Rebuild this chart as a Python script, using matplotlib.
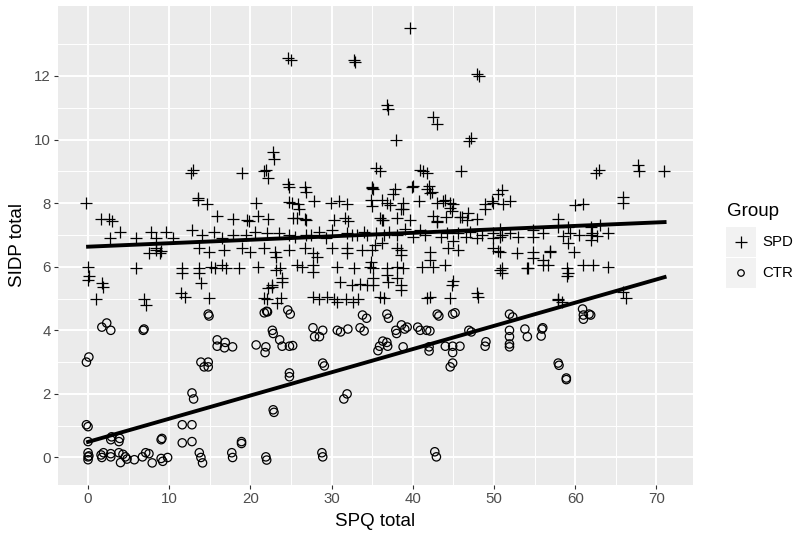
import matplotlib
matplotlib.use('Agg')
import matplotlib.pyplot as plt
import numpy as np
from matplotlib.patches import Rectangle

plt.rcParams['font.family'] = ['Liberation Sans', 'DejaVu Sans']

# SPD group (SPQ total, SIDP total)
spd_x = [39.6, 24.6, 25.0, 32.7, 32.9, 47.9, 48.1, 36.8, 37.0, 42.5, 43.0, 46.9, 47.1, 37.9, 22.8, 22.9,
         12.7, 12.9, 18.9, 21.7, 21.9, 22.1, -0.2, 13.5, 14.7, 15.9, 17.8, 19.8, 20.7, 20.9, 22.1, 1.6,
         2.6, 2.9, 2.7, 3.9, 5.9, 7.8, 8.4, 9.6, 12.8, 17.8, 22.0,
         24.6, 24.8, 26.7, 26.8, 35.0, 35.5, 13.6, 19.6, 24.7, 25.8, 26.0, 27.8, 29.9, 30.9, 25.7, 26.7,
         31.7, 32.0, 35.0, 34.9, 24.8, 26.9, 30.0, 31.9, 33.1, 34.4,
         35.9, 40.9, 41.2, 41.7, 45.9, 62.5, 62.9, 35.1, 37.8, 37.6, 40.0, 42.0, 42.3, 36.2, 36.8, 38.8,
         38.6, 40.7, 43.0, 44.0, 44.6, 44.6, 48.9, 49.8, 51.0, 50.5, 51.1, 52.0, 48.9, 60.0, 60.9, 35.9,
         36.3, 38.0, 39.6, 42.5, 43.0, 44.1, 45.8, 46.8, 47.9, 57.9, 57.9, 35.5, 37.1, 39.0, 40.9, 44.2,
         47.0, 49.9, 51.0, 54.8, 58.5, 61.9, 62.7,
         67.7, 67.9, 70.9, 65.9, 65.9, 50.7, 50.7, 49.9, 59.1, 59.4, 61.9, 62.1, 64.0, 54.8,
         50.7, 49.9, 52.8, 54.8, 54.8, 56.9, 56.0, 56.7, 59.8, 59.1, 61.9, 50.7, 54.1, 59.0, 59.1, 59.0,
         60.9, 62.2, 64.0, 57.9, 58.4, 65.9, 66.2,
         35.3, 36.2, 38.0, 38.6, 38.6, 42.1, 42.1, 44.3, 44.9, 45.5, 47.9, 50.5, 56.9, 41.1, 42.5, 44.0,
         51.0, 51.0, 54.2, 56.0, 44.8, 45.0, 47.9, 48.0, 35.9, 36.5, 41.7, 42.1, 44.6, 57.9, 36.8, 36.8,
         37.0, 38.0, 38.8, 38.6, 38.6, 38.0, 35.1, 35.1, 35.1,
         8.4, 9.0, 13.7, 14.9, 16.8, 18.9, 19.9, 21.7, 23.0, 23.2, 24.8, 26.7, 27.7, 28.2, 30.0, 31.9,
         31.9, 33.7, 35.0,
         11.6, 11.6, 13.7, 13.7, 13.9, 15.6, 17.0, 18.6, 20.9, 23.6, 23.9, 23.9, 22.7, 22.1, 25.7, 26.4,
         27.7, 27.7, 30.7, 32.8, 31.0, 32.5, 33.5, 34.3, 34.7, 34.9,
         11.5, 11.9, 14.9, 21.7, 23.8, 23.3, 27.7, 28.5, 29.4, 30.3, 30.7, 31.8, 32.6, 33.2,
         0.0, 0.0, 0.1, 1.7, 1.9, 1.0, 5.9, 6.9, 7.1, 7.5, 8.4, 8.8, 15.1, 16.5, 22.0, 22.6, 23.2,
         35.0, 39.9, 41.7, 42.1, 25.1, 31.9, 37.2, 38.8, 43.7, 44.9, 44.8, 49.9, 25.3, 26.9, 30.3, 36.2,
         43.0, 46.1, 46.7,
         10.5, 14.0, 15.5, 16.5, 19.5, 20.5, 23.5, 25.5, 27.5, 28.5, 29.3, 32.5, 34.0, 36.5, 38.0, 40.0,
         41.5, 43.5, 45.5, 46.5, 48.5, 52.0, 53.0, 56.0, 60.5, 63.0]
spd_y = [13.5, 12.55, 12.5, 12.5, 12.45, 12.05, 12.0, 11.1, 10.95, 10.7, 10.5, 9.95, 10.05, 10.0, 9.6, 9.4,
         8.95, 9.05, 8.95, 9.0, 9.05, 8.8, 8.0, 8.1, 7.97, 7.6, 7.5, 7.45, 8.0, 7.6, 7.5, 7.5,
         7.5, 7.45, 6.9, 7.1, 6.9, 7.1, 6.9, 7.1, 7.15, 7.0, 7.05,
         8.6, 8.5, 8.5, 8.35, 8.5, 9.1, 8.15, 7.47, 8.03, 7.97, 7.8, 8.07, 8.0, 8.07, 7.54, 7.5,
         7.54, 7.45, 7.9, 8.1, 7.0, 7.0, 7.15, 7.06, 7.0, 7.0,
         9.0, 9.05, 9.0, 8.95, 9.0, 8.95, 9.05, 8.45, 8.45, 8.3, 8.55, 8.55, 8.35, 8.1, 8.0, 8.0,
         7.8, 8.07, 8.0, 8.1, 8.0, 7.85, 7.97, 8.07, 8.4, 8.3, 7.97, 8.07, 7.8, 7.94, 7.97, 7.54,
         7.47, 7.54, 7.47, 7.6, 7.45, 7.56, 7.56, 7.7, 7.5, 7.5, 7.25, 7.06, 7.1, 7.2, 7.15, 7.06,
         7.1, 7.06, 7.0, 7.15, 6.97, 7.0, 6.97,
         9.2, 9.0, 9.0, 8.2, 8.0, 7.2, 6.95, 6.9, 7.25, 7.06, 7.25, 7.06, 7.06, 6.95,
         6.47, 6.6, 6.43, 6.47, 6.28, 6.47, 6.2, 6.05, 6.47, 6.74, 6.84, 5.9, 5.97, 5.97, 5.8, 5.7,
         6.05, 6.05, 6.0, 5.0, 4.9, 5.2, 5.03,
         6.68, 6.75, 6.6, 6.53, 6.37, 6.47, 6.2, 6.6, 6.8, 6.53, 6.9, 6.5, 6.5, 6.0, 6.0, 6.05,
         5.97, 5.8, 5.97, 6.05, 5.42, 5.55, 5.17, 5.05, 5.05, 5.02, 5.02, 5.05, 5.02, 4.96, 5.97, 5.74,
         5.52, 6.0, 5.97, 5.43, 5.27, 5.65, 5.97, 5.65, 5.43,
         6.6, 6.5, 6.6, 6.47, 6.53, 6.6, 6.47, 6.6, 6.47, 6.3, 6.53, 6.6, 6.43, 6.3, 6.6, 6.6,
         6.43, 6.53, 6.53,
         5.97, 5.8, 5.97, 5.8, 5.5, 5.97, 5.97, 5.97, 6.0, 5.97, 5.65, 5.52, 5.43, 5.33, 6.05, 6.0,
         6.05, 5.84, 6.0, 5.97, 5.52, 5.42, 5.47, 5.42, 6.0, 6.15,
         5.17, 5.05, 5.02, 5.02, 5.02, 4.87, 5.05, 5.0, 5.05, 5.0, 4.9, 5.0, 4.9, 5.0,
         6.0, 5.58, 5.7, 5.5, 5.35, 5.0, 5.97, 5.0, 4.8, 6.43, 6.53, 6.43, 6.0, 6.05, 5.0, 5.35, 5.9,
         8.48, 8.5, 8.45, 8.33, 8.0, 7.97, 7.94, 7.8, 8.07, 7.97, 7.76, 8.0, 7.54, 7.47, 7.47, 7.47,
         7.4, 7.56, 7.47,
         6.9, 7.0, 7.1, 6.9, 7.0, 7.1, 7.05, 6.95, 7.0, 7.1, 6.9, 7.0, 7.1, 7.0, 7.0, 6.95,
         7.0, 6.95, 7.05, 6.95, 7.0, 7.05, 6.95, 7.05, 7.0, 7.3]

# CTR group
ctr_x = [-0.2, 0.0, 0.0, 2.8, 2.9, 3.8, 3.9, 9.0, 9.1, 11.6, 12.8, 18.9, 18.9, 0.0, 0.0, 0.0,
         0.1, 1.6, 1.9, 1.7, 2.8, 2.8, 3.8, 4.0, 4.3, 4.6, 4.8, 5.7, 6.7, 7.1, 7.5, 7.9,
         9.0, 9.2, 9.8, 13.7, 13.9, 14.1, 17.7, 17.8, 21.9, 22.0, 28.8, 28.9, 42.7, 42.9,
         11.6, 12.8, 22.8, 22.9, 12.8, 13.0, 31.5, 31.9, -0.2, 0.1, 13.9, 14.8, 14.3, 14.8, 24.8, 24.8,
         28.9, 29.1, 44.9, 44.6, 57.9, 58.0, 58.9, 58.9,
         15.9, 15.9, 16.9, 16.8, 17.8, 20.7, 21.9, 21.8, 23.6, 23.9, 24.8, 25.2, 35.7, 35.9, 36.3, 36.8,
         36.9, 38.8, 42.0, 42.0, 44.0, 44.9, 44.9, 45.8, 49.0, 48.9, 51.9, 51.9,
         1.7, 2.3, 2.8, 6.9, 6.8, 14.8, 14.9, 21.7, 22.0, 22.1, 24.6, 24.9, 22.7, 22.8,
         27.7, 27.9, 28.5, 28.9, 30.7, 31.1, 32.0, 33.5, 34.0, 33.8, 34.3, 36.8, 37.0, 37.9, 38.0, 38.6,
         39.0, 39.3, 40.6, 40.9, 41.7, 42.1, 43.0, 43.2, 44.9, 45.2, 46.9, 47.2, 51.9, 52.3, 51.9, 51.9,
         53.8, 54.1, 55.8, 55.9, 56.0, 60.9, 61.0, 61.0, 61.7, 61.9]
ctr_y = [1.03, 0.97, 0.5, 0.56, 0.65, 0.5, 0.6, 0.56, 0.6, 0.46, 0.5, 0.5, 0.44, 0.15, 0.02, -0.07,
         0.05, 0.08, 0.15, 0.0, 0.02, 0.12, 0.15, -0.16, 0.1, 0.02, -0.05, -0.07, 0.02, 0.15, 0.12, -0.17,
         -0.03, -0.12, 0.0, 0.15, 0.0, -0.17, 0.15, 0.0, 0.02, -0.08, 0.15, 0.02, 0.18, 0.02,
         1.03, 1.03, 1.5, 1.42, 2.03, 1.84, 1.84, 2.0, 3.0, 3.16, 3.0, 3.0, 2.85, 2.85, 2.66, 2.54,
         2.97, 2.88, 2.97, 2.85, 2.97, 2.9, 2.5, 2.45,
         3.7, 3.5, 3.62, 3.45, 3.48, 3.54, 3.48, 3.3, 3.7, 3.5, 3.5, 3.52, 3.36, 3.5, 3.66, 3.62,
         3.5, 3.48, 3.48, 3.35, 3.5, 3.5, 3.3, 3.5, 3.64, 3.5, 3.57, 3.48,
         4.1, 4.23, 4.0, 4.04, 4.0, 4.51, 4.45, 4.55, 4.6, 4.58, 4.64, 4.51, 4.0, 3.9,
         4.08, 3.8, 3.8, 4.0, 4.0, 3.95, 4.04, 4.08, 3.98, 4.48, 4.38, 4.51, 4.38, 4.0, 3.9, 4.17,
         4.04, 4.1, 4.1, 4.0, 4.0, 3.98, 4.51, 4.45, 4.51, 4.55, 4.0, 3.95, 4.51, 4.42, 4.0, 3.8,
         4.04, 3.8, 3.82, 4.04, 4.08, 4.67, 4.48, 4.35, 4.51, 4.48]

# linear fits: intercept, slope
spd_fit = [6.63, 0.0109]
ctr_fit = [0.49, 0.073]
fit_range = [0, 71]

xticks = [0, 10, 20, 30, 40, 50, 60, 70]
yticks = [0, 2, 4, 6, 8, 10, 12]

fig = plt.figure(figsize=(8, 5.38), dpi=100)
ax = fig.add_axes([58/800, 53/538, 635/800, 479/538])
ax.set_facecolor('#EBEBEB')
for s in ax.spines.values():
    s.set_visible(False)

ax.set_xlim(-3.7, 74.5)
ax.set_ylim(-0.865, 14.2)
ax.set_xticks(xticks)
ax.set_yticks(yticks)
ax.set_xticks(np.arange(5, 75, 10), minor=True)
ax.set_yticks(np.arange(1, 15, 2), minor=True)
ax.grid(which='major', color='white', lw=1.4)
ax.grid(which='minor', color='white', lw=0.7)
ax.set_axisbelow(True)
ax.tick_params(which='major', length=3, width=0.8, color='#333333', labelsize=10.8,
               labelcolor='#4D4D4D', pad=2)
ax.tick_params(which='minor', length=0)

ax.scatter(spd_x, spd_y, marker='+', s=80, c='black', linewidths=0.9, zorder=3)
ax.scatter(ctr_x, ctr_y, marker='o', s=36, facecolors='none', edgecolors='black',
           linewidths=0.9, zorder=3)

fx = np.array(fit_range)
ax.plot(fx, spd_fit[0] + spd_fit[1] * fx, color='black', lw=2.8, zorder=4)
ax.plot(fx, ctr_fit[0] + ctr_fit[1] * fx, color='black', lw=2.8, zorder=4)

fig.text(375/800, 1 - 522/538, 'SPQ total', ha='center', va='center', fontsize=13.5)
fig.text(18/800, 1 - 245/538, 'SIDP total', ha='center', va='center', fontsize=13.5,
         rotation=90)

# legend drawn by hand (ggplot style keys)
lg = fig.add_axes([0, 0, 1, 1])
lg.set_xlim(0, 800)
lg.set_ylim(538, 0)
lg.axis('off')
lg.patch.set_alpha(0)
lg.text(727, 212, 'Group', ha='left', va='center', fontsize=13.5)
for i, (lab, mk) in enumerate([('SPD', '+'), ('CTR', 'o')]):
    y0 = 227 + i * 31
    lg.add_patch(Rectangle((726, y0), 30, 30, color='#F2F2F2', lw=0))
    if mk == '+':
        lg.scatter([741], [y0 + 15], marker='+', s=80, c='black', linewidths=0.9)
    else:
        lg.scatter([741], [y0 + 15], marker='o', s=22, facecolors='none',
                   edgecolors='black', linewidths=0.9)
    lg.text(762, y0 + 15, lab, ha='left', va='center', fontsize=10.8)

fig.savefig('out.png', dpi=100)
